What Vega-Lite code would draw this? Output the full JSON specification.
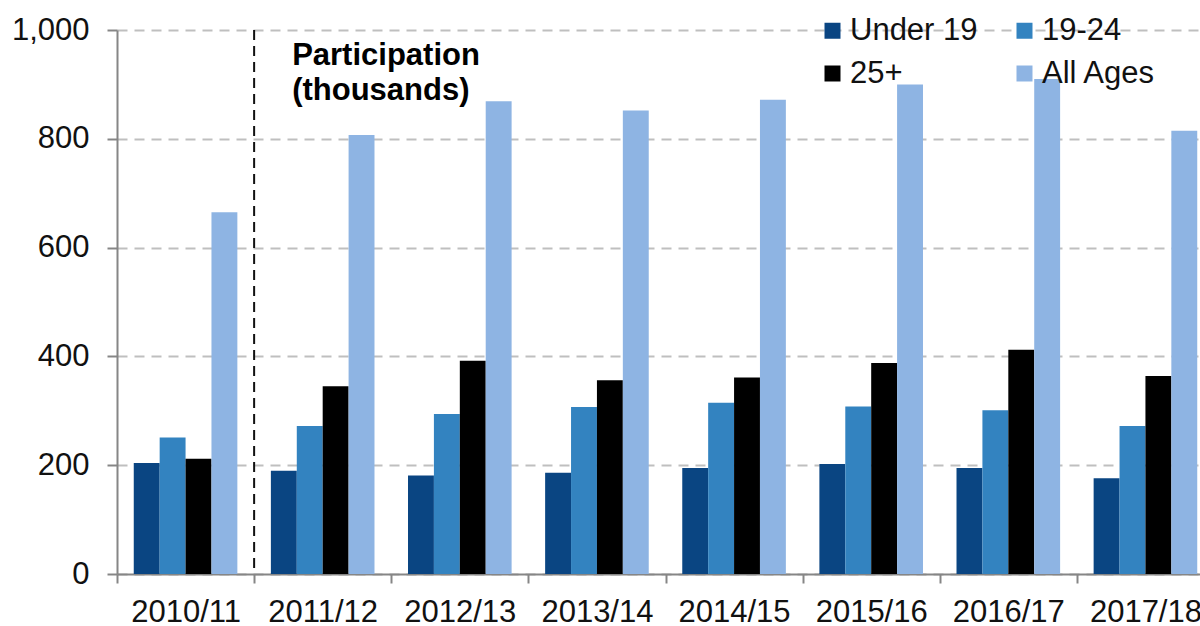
{
  "$schema": "https://vega.github.io/schema/vega-lite/v6.json",
  "width": 1083,
  "height": 544,
  "autosize": "none",
  "padding": {"left": 117, "top": 30, "right": 0, "bottom": 52},
  "background": "white",
  "config": {"view": {"stroke": null}, "font": "Liberation Sans"},
  "datasets": {
    "bars": [
      {"year": "2010/11", "group": "Under 19", "value": 204},
      {"year": "2010/11", "group": "19-24", "value": 251},
      {"year": "2010/11", "group": "25+", "value": 212},
      {"year": "2010/11", "group": "All Ages", "value": 665},
      {"year": "2011/12", "group": "Under 19", "value": 190},
      {"year": "2011/12", "group": "19-24", "value": 272},
      {"year": "2011/12", "group": "25+", "value": 345},
      {"year": "2011/12", "group": "All Ages", "value": 807},
      {"year": "2012/13", "group": "Under 19", "value": 181},
      {"year": "2012/13", "group": "19-24", "value": 294},
      {"year": "2012/13", "group": "25+", "value": 392},
      {"year": "2012/13", "group": "All Ages", "value": 869},
      {"year": "2013/14", "group": "Under 19", "value": 186},
      {"year": "2013/14", "group": "19-24", "value": 307},
      {"year": "2013/14", "group": "25+", "value": 356},
      {"year": "2013/14", "group": "All Ages", "value": 852},
      {"year": "2014/15", "group": "Under 19", "value": 195},
      {"year": "2014/15", "group": "19-24", "value": 315},
      {"year": "2014/15", "group": "25+", "value": 361},
      {"year": "2014/15", "group": "All Ages", "value": 872},
      {"year": "2015/16", "group": "Under 19", "value": 202},
      {"year": "2015/16", "group": "19-24", "value": 308},
      {"year": "2015/16", "group": "25+", "value": 388},
      {"year": "2015/16", "group": "All Ages", "value": 900},
      {"year": "2016/17", "group": "Under 19", "value": 195},
      {"year": "2016/17", "group": "19-24", "value": 301},
      {"year": "2016/17", "group": "25+", "value": 412},
      {"year": "2016/17", "group": "All Ages", "value": 910},
      {"year": "2017/18", "group": "Under 19", "value": 176},
      {"year": "2017/18", "group": "19-24", "value": 272},
      {"year": "2017/18", "group": "25+", "value": 364},
      {"year": "2017/18", "group": "All Ages", "value": 815}
    ],
    "divider": [{"year": "2011/12"}],
    "note": [{"year": "2011/12", "label": "Participation\n(thousands)"}]
  },
  "layer": [
    {
      "data": {"name": "bars"},
      "mark": {"type": "bar"},
      "encoding": {
        "x": {
          "field": "year", "type": "nominal",
          "scale": {
            "domain": ["2010/11", "2011/12", "2012/13", "2013/14", "2014/15", "2015/16", "2016/17", "2017/18"],
            "range": [0, 1097], "paddingInner": 0, "paddingOuter": 0
          },
          "axis": {
            "title": null, "labelAngle": 0, "labelFontSize": 31, "labelColor": "#111111",
            "tickBand": "extent", "tickSize": 9, "tickColor": "#868686", "tickWidth": 2,
            "domainColor": "#868686", "domainWidth": 2, "labelPadding": 14, "grid": false,
            "labelOverlap": false, "labelBound": false
          }
        },
        "xOffset": {
          "field": "group", "type": "nominal",
          "scale": {"domain": ["Under 19", "19-24", "25+", "All Ages"], "paddingInner": 0, "paddingOuter": 0.647}
        },
        "y": {
          "field": "value", "type": "quantitative",
          "scale": {"domain": [0, 1000], "nice": false},
          "axis": {
            "title": null, "values": [0, 200, 400, 600, 800, 1000], "format": ",d",
            "labelFontSize": 31, "labelColor": "#111111", "labelPadding": 18,
            "tickSize": 10, "tickColor": "#868686", "tickWidth": 2,
            "domainColor": "#868686", "domainWidth": 2,
            "grid": true, "gridDash": [10, 7], "gridColor": "#bfbfbf", "gridWidth": 2
          }
        },
        "color": {
          "field": "group", "type": "nominal",
          "scale": {
            "domain": ["Under 19", "19-24", "25+", "All Ages"],
            "range": ["#0a4582", "#3383c0", "#000000", "#8eb4e3"]
          },
          "legend": {
            "title": null, "orient": "none", "legendX": 700, "legendY": -15,
            "direction": "horizontal",
            "columns": 2, "symbolType": "square", "symbolSize": 256, "symbolStrokeWidth": 0,
            "labelFontSize": 31, "labelColor": "#111111", "labelOffset": 2, "columnPadding": 31, "rowPadding": 11,
            "padding": 0, "labelLimit": 0
          }
        }
      }
    },
    {
      "data": {"name": "divider"},
      "mark": {"type": "rule", "strokeDash": [10, 6], "strokeWidth": 2, "color": "#111111"},
      "encoding": {
        "x": {"field": "year", "type": "nominal", "bandPosition": 0}
      }
    },
    {
      "data": {"name": "note"},
      "mark": {
        "type": "text", "align": "left", "baseline": "alphabetic", "fontSize": 31, "fontWeight": "bold",
        "dx": 38, "lineHeight": 35, "lineBreak": "\n", "color": "#000000"
      },
      "encoding": {
        "x": {"field": "year", "type": "nominal", "bandPosition": 0},
        "y": {"datum": 935, "type": "quantitative"},
        "text": {"field": "label"}
      }
    }
  ]
}
